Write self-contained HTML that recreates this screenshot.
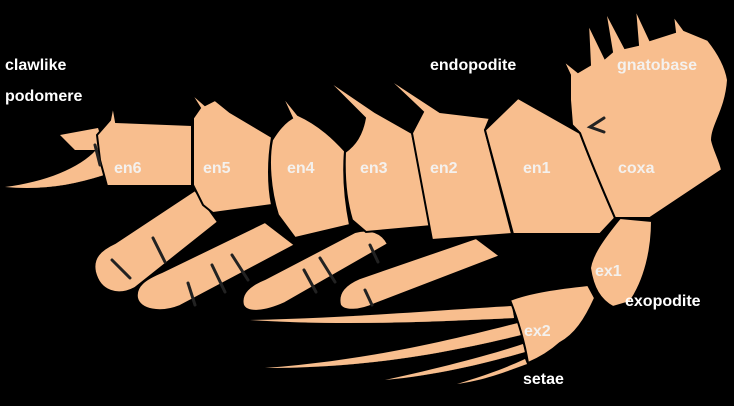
<!DOCTYPE html>
<html><head><meta charset="utf-8">
<style>
html,body{margin:0;padding:0;background:#000;}
svg{display:block;}
text{font-family:"Liberation Sans",sans-serif;font-weight:bold;font-size:16px;fill:#fff;}
.in{fill:#f4f1ee;}
</style></head>
<body>
<svg width="734" height="406" viewBox="0 0 734 406">
<defs>
<filter id="sh" x="-10%" y="-10%" width="130%" height="130%"><feDropShadow dx="2" dy="4" stdDeviation="3" flood-color="#000" flood-opacity="0.75"/></filter>
</defs>
<g fill="#F8BE8E" stroke="#000" stroke-width="2" filter="url(#sh)">
  <!-- setae -->
  <path stroke="none" d="M250,320 C350,318 440,310 512,306 L514,318 C430,322 340,326 250,320Z"/>
  <path stroke="none" d="M265,368 C370,360 450,340 518,323 L521,335 C450,352 370,368 265,368Z"/>
  <path stroke="none" d="M385,380 C440,368 490,355 523,344 L525,352 C490,362 440,375 385,380Z"/>
  <path stroke="none" d="M457,384 C490,374 510,366 525,359 L527,364 C505,372 485,380 457,384Z"/>
  <!-- exopod lobes -->
  <path d="M95,272 C92,258 100,250 115,243 L195,190 L218,222 L135,288 C118,297 100,292 95,272Z"/>
  <path d="M137,298 C135,286 145,279 162,272 L265,222 L295,245 L180,306 C160,314 140,310 137,298Z"/>
  <path d="M243,305 C240,293 250,285 265,279 L355,232 C370,228 382,232 388,244 L285,303 C265,312 247,314 243,305Z"/>
  <path d="M340,305 C337,292 346,284 360,278 L476,238 L500,256 L375,304 C360,311 344,312 340,305Z"/>
  <!-- ex2 / ex1 -->
  <path d="M510,300 C530,292 560,288 588,285 L595,298 C585,320 575,335 560,343 C550,352 540,358 528,363 C525,345 520,325 510,300Z"/>
  <path d="M620,218 L652,221 C652,250 645,280 630,302 L613,307 C600,300 593,288 590,268 C592,255 602,240 620,218Z"/>
  <!-- claw -->
  <path stroke="none" d="M5,187 C45,182 80,168 96,150 L104,175 C70,186 40,190 5,187Z"/>
  <path stroke="none" d="M60,135 L98,128 L105,150 L75,150Z"/>
  <!-- endopod segments -->
  <path d="M97,135 L110,120 L113,105 L116,122 L192,125 L192,186 L107,186 L100,160Z"/>
  <path d="M193,118 L200,108 L190,92 L205,105 L215,100 L230,112 L272,137 C268,160 268,185 272,205 L213,213 L203,205 L193,185Z"/>
  <path d="M272,140 C278,130 285,122 292,118 L281,94 L298,115 C320,125 335,140 345,151 C343,175 345,200 350,225 L295,238 L278,215 C270,190 268,160 272,140Z"/>
  <path d="M345,152 C355,145 362,135 365,118 L325,78 L375,112 L412,133 L432,226 L366,232 L352,220 C346,200 344,175 345,152Z"/>
  <path d="M412,133 L423,112 L385,76 L440,112 L490,118 L485,130 L512,234 L432,240Z"/>
  <path d="M485,130 L518,98 L580,133 C592,165 605,195 615,218 L600,234 L513,234Z"/>
  <path d="M570,75 L563,60 L578,72 L590,65 L588,23 L605,58 L612,52 L605,10 L625,48 L638,45 L635,8 L650,40 L675,32 L673,15 L684,30 L708,40 C720,55 726,68 728,80 C726,110 712,125 712,140 C714,150 720,160 722,170 L650,218 L615,218 C605,195 592,165 580,133 L572,125 L570,100Z"/>
</g>
<!-- segment lines -->
<g stroke="#222" stroke-width="3" fill="none" stroke-linecap="round">
  <path d="M95,145 L100,165"/>
  <path d="M153,238 L165,262"/><path d="M112,260 L130,278"/>
  <path d="M188,283 L195,305"/><path d="M212,265 L225,292"/><path d="M232,255 L248,280"/>
  <path d="M304,270 L316,292"/><path d="M320,258 L335,282"/><path d="M370,245 L378,262"/>
  <path d="M365,290 L372,305"/>
  <path d="M604,118 L590,127 L604,132"/>
</g>
<!-- labels -->
<text x="5" y="70">clawlike</text>
<text x="5" y="101">podomere</text>
<text x="430" y="70">endopodite</text>
<text class="in" x="617" y="70">gnatobase</text>
<text class="in" x="114" y="173">en6</text>
<text class="in" x="203" y="173">en5</text>
<text class="in" x="287" y="173">en4</text>
<text class="in" x="360" y="173">en3</text>
<text class="in" x="430" y="173">en2</text>
<text class="in" x="523" y="173">en1</text>
<text class="in" x="618" y="173">coxa</text>
<text class="in" x="595" y="276">ex1</text>
<text x="625" y="306">exopodite</text>
<text class="in" x="524" y="336">ex2</text>
<text x="523" y="384">setae</text>
</svg>
</body></html>
